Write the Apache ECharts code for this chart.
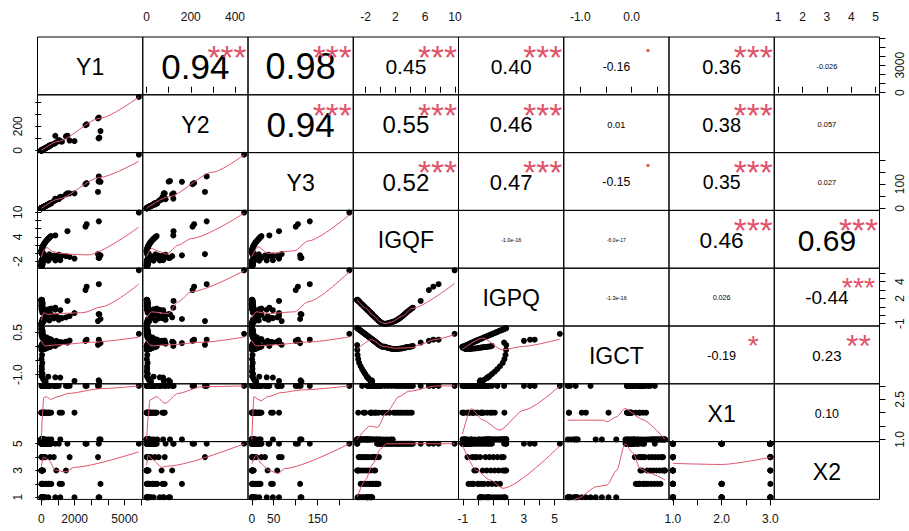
<!DOCTYPE html>
<html><head><meta charset="utf-8">
<script src="https://cdn.jsdelivr.net/npm/echarts@6/dist/echarts.min.js"></script>
<style>html,body{margin:0;padding:0;background:#fff}#c{width:909px;height:531px}</style>
</head><body><div id="c"></div>
<script>
// ---------------- data (one array per variable, same observation order) ----------------
const varNames = ['Y1','Y2','Y3','IGQF','IGPQ','IGCT','X1','X2'];
const Y1 = [12,30,8,45,20,60,15,85,25,50,10,70,35,110,18,95,40,150,320,65,200,520,600,420,900,250,1100,750,80,1050,480,40,130,22,55,15,
  7,12,18,25,36,48,60,74,90,105,125,145,168,190,215,240,268,295,330,360,395,430,465,505,545,590,
  20,8,45,15,60,28,35,12,75,18,90,140,200,260,
  420,840,1140,1990,3480,3440,
  5850,3450,2720,2650,1570,3400,3550,1700,1480,1240,840];
const Y2 = [1.2,2.5,0.6,3.8,1.5,4.2,1.0,7.0,2.0,3.5,0.8,5.5,2.8,9.0,1.4,8.0,3.0,12,26,5,14,38,48,30,68,20,82,55,6,86,40,3,10,1.6,4,1.1,
  0.5,1.0,1.4,2.0,2.6,3.8,4.5,5.8,6.6,8.5,9.2,11.5,12.5,15,16,19,20,23,25,28,30,34,36,40,42,46,
  1.5,0.6,3.5,1.2,4.8,2.2,2.6,0.9,5.5,1.4,7,10,15,20,
  32,60,75,78,106,100,
  441,272,215,208,122,264,160,82,116,72,121];
const Y3 = [0.5,1.0,0.3,1.6,0.9,2.5,0.6,3.0,1.2,2.2,0.4,2.8,1.5,4.5,0.7,3.6,1.8,6,12,2.5,9,22,20,17,36,10,44,30,3,38,16,1.5,5,0.8,2,0.6,
  0.3,0.5,0.7,1.0,1.4,1.8,2.4,2.8,3.5,4.0,5.0,5.4,6.5,7.2,8.5,9.0,10.5,11,13,13.5,15.5,16,18,19,21,22,
  0.8,0.3,1.8,0.6,2.2,1.1,1.5,0.5,3,0.7,3.5,5.5,8,10,
  17,34,48,62,113,111,
  222,132,105,100,62,68,110,62,58,48,40];
const IGQF = [-3.12,-3.06,-2.98,-2.92,-2.85,-2.75,-2.65,-2.55,-2.45,-2.35,-2.25,-2.15,-2.05,-1.95,-1.85,-1.75,-1.65,-1.55,-1.45,-1.35,-1.25,-1.15,-1.05,-0.95,-0.85,-0.75,-0.65,-0.55,-0.45,-0.35,-0.25,-0.15,-0.05,0.05,0.15,0.3,
  0.45,0.6,0.75,0.9,1.05,1.2,1.35,1.5,1.65,1.8,1.95,2.1,2.25,2.4,2.55,2.7,2.85,3.0,3.15,3.3,3.45,3.6,3.75,3.9,4.05,4.2,
  -3.12,-3.1,-3.06,-2.98,-2.85,-2.65,-2.45,-2.25,-2.05,-1.85,-1.65,-1.45,-1.3,-1.2,
  -1.8,-1.75,-1.7,-1.3,-1.1,-1.15,
  9.95,7.8,7.1,6.5,5.4,-0.2,-0.5,-0.9,-0.7,-0.6,4.35];
const IGPQ = [1.84,1.79,1.72,1.67,1.61,1.52,1.43,1.35,1.26,1.17,1.09,1.00,0.91,0.83,0.74,0.65,0.56,0.48,0.39,0.30,0.22,0.13,0.04,-0.04,-0.13,-0.22,-0.30,-0.39,-0.47,-0.55,-0.63,-0.72,-0.80,-0.86,-0.92,-0.98,
  -1.01,-1.03,-1.03,-1.0,-0.95,-0.92,-0.88,-0.84,-0.8,-0.75,-0.7,-0.63,-0.55,-0.47,-0.38,-0.28,-0.18,-0.07,0.05,0.17,0.28,0.39,0.5,0.6,0.7,0.8,
  1.84,1.83,1.79,1.72,1.61,1.43,1.26,1.09,0.91,0.74,0.56,0.39,0.26,0.17,
  0.7,0.65,0.6,0.26,0.1,0.14,
  5.35,3.7,3.4,3.0,1.7,-0.7,-0.45,-0.1,-0.25,-0.35,0.9];
const IGCT = [0.65,0.64,0.63,0.61,0.60,0.58,0.56,0.54,0.52,0.50,0.48,0.46,0.44,0.42,0.40,0.38,0.36,0.34,0.32,0.30,0.28,0.26,0.24,0.22,0.20,0.18,0.16,0.14,0.12,0.10,0.08,0.06,0.04,0.02,0.0,-0.01,
  0.0,-0.01,-0.02,-0.04,-0.05,-0.06,-0.07,-0.08,-0.09,-0.09,-0.09,-0.09,-0.09,-0.08,-0.08,-0.07,-0.07,-0.06,-0.05,-0.04,-0.03,-0.02,-0.02,-0.01,0.0,0.0,
  0.05,-0.12,-0.3,-0.45,-0.58,-0.7,-0.8,-0.89,-0.97,-1.05,-1.12,-1.18,-1.22,-1.245,
  -1.07,-1.09,-1.1,-1.22,-1.24,-1.2,
  0.45,0.24,0.24,0.2,0.14,0.06,0.12,0.21,0.17,0.15,0.02];
const X1 = [1,1,1,1,1,1,1,1,1,1,1,1,1,1,1,1,3,1,3,1,2,3,1,2,3,1,2,3,1,3,2,1,3,1,3,2,
  1,3,2,1,3,2,1,3,1,2,3,2,3,2,3,2,3,2,3,2,3,2,3,2,3,2,
  1,1,1,2,1,1,3,2,2,1,1,1,2,3,
  1,3,1,2,1,3,
  3,3,3,3,3,3,1,3,3,2,3];
const X2 = [3,3,3,4,3,4,2,3,4,2,3,4,2,3,4,2,3,4,2,3,2,4,2,2,3,4,2,4,5,5,2,5,5,5,5,5,
  5,5,5,5,5,5,5,5,5,5,5,5,5,5,5,5,5,5,5,5,5,5,5,5,5,5,
  5,5,1,1,1,1,1,1,1,1,1,1,1,1,
  1,1,1,1,1,1,
  5,5,5,5,5,4,2,4,3,2,5];

// correlations (upper triangle, row by row) and significance stars
const corrLabels = ['0.94','0.98','0.45','0.40','-0.16','0.36','-0.026',
  '0.94','0.55','0.46','0.01','0.38','0.057',
  '0.52','0.47','-0.15','0.35','0.027',
  '-1.0e-16','-6.0e-17','0.46','0.69',
  '-1.3e-16','0.026','-0.44',
  '-0.19','0.23',
  '0.10'];
const corrStars = ['***','***','***','***','.','***','',
  '***','***','***','','***','',
  '***','***','.','***','',
  '','','***','***',
  '','','***',
  '*','**',
  ''];

// smoothed (loess) red lines, [x, y] in data units
const loess_Y2_Y1 = [[8,2],[1000,75],[3500,265],[5850,440]];
const loess_Y3_Y1 = [[8,0],[1000,38],[3500,128],[5850,195]];
const loess_Y3_Y2 = [[0.5,0],[100,48],[300,150],[441,222]];
const loess_IGQF_Y1 = [[7,-1.0],[150,0.7],[340,1.4],[700,0.4],[1100,0.0],[2000,-0.3],[2800,-0.4],[5850,6.4]];
const loess_IGQF_Y2 = [[0.5,-0.8],[22,1.2],[60,0.4],[90,-0.2],[143,2.0],[203,3.6],[441,9.8]];
const loess_IGQF_Y3 = [[0.2,-0.8],[14,1.6],[37,0.0],[97,0.6],[128,3.0],[222,9.4]];
const loess_IGPQ_Y1 = [[7,-0.6],[150,0.3],[400,0.1],[1000,0.2],[2500,0.3],[3600,1.0],[5850,3.7]];
const loess_IGPQ_Y2 = [[0.5,-0.3],[22,0.4],[98,0.2],[143,1.6],[203,2.8],[441,5.3]];
const loess_IGPQ_Y3 = [[0.2,-0.3],[10,0.4],[37,0.2],[97,0.4],[128,1.6],[222,5.2]];
const loess_IGPQ_IGQF = [[-3.12,1.84],[-2,0.87],[-1,0],[0,-0.8],[0.6,-1.0],[1.5,-0.8],[3,-0.07],[4.2,0.8],[9.95,3.8]];
const loess_IGCT_Y1 = [[7,0.2],[200,0.02],[1000,0.06],[3000,0.15],[5850,0.33]];
const loess_IGCT_Y2 = [[0.5,0.2],[20,0.02],[100,0.06],[250,0.15],[441,0.33]];
const loess_IGCT_Y3 = [[0.2,0.2],[10,0.02],[50,0.06],[130,0.16],[222,0.34]];
const loess_IGCT_IGQF = [[-3.12,-0.1],[-1.2,0.24],[0.4,0.0],[2.0,-0.06],[4.2,-0.04],[5.5,0.08],[7.1,0.24],[9.95,0.42]];
const loess_IGCT_IGPQ = [[-1.03,-0.1],[0.3,0.3],[1.6,-0.12],[2.9,0.0],[5.35,0.26]];
const loess_X1_Y1 = [[7,1.0],[60,1.8],[140,2.55],[300,2.6],[550,2.5],[1000,2.6],[1600,2.72],[3600,2.9],[5850,3.0]];
const loess_X1_Y2 = [[0.5,1.0],[8,1.9],[15,2.47],[45,2.6],[83,2.35],[143,2.72],[248,2.97],[441,3.0]];
const loess_X1_Y3 = [[0.2,1.0],[5,2.6],[14,2.5],[21,2.45],[37,2.6],[67,2.75],[113,2.85],[222,3.0]];
const loess_X1_IGQF = [[-3.12,1.0],[-1.4,1.5],[-0.4,1.45],[0.8,2.0],[2.5,2.6],[3.8,2.8],[7.5,3.0],[9.95,3.0]];
const loess_X1_IGPQ = [[-1.03,1.2],[-0.45,2.15],[0.3,1.73],[1.4,1.35],[3.0,2.1],[5.35,3.0]];
const loess_X1_IGCT = [[-1.245,1.72],[-0.55,1.72],[-0.48,1.66],[-0.29,1.85],[-0.13,2.16],[0.03,1.98],[0.1,1.85],[0.2,1.75],[0.65,1.0]];
const loess_X2_Y1 = [[7,3.3],[140,4.0],[440,3.8],[840,3.03],[1440,2.9],[2000,3.24],[5850,4.4]];
const loess_X2_Y2 = [[0.5,3.4],[8,4.15],[30,3.78],[68,3.24],[98,3.33],[441,5.0]];
const loess_X2_Y3 = [[0.2,3.5],[10,4.15],[21,3.53],[37,3.03],[60,2.78],[75,3.15],[222,5.0]];
const loess_X2_IGQF = [[-3.12,1.0],[-2.0,2.3],[-1.0,3.5],[0.0,4.6],[0.8,5.0],[9.95,5.0]];
const loess_X2_IGPQ = [[-1.03,4.9],[-0.1,3.0],[0.76,2.3],[1.63,1.67],[5.35,4.85]];
const loess_X2_IGCT = [[-1.245,0.5],[-1.06,0.9],[-0.68,1.79],[-0.48,1.91],[-0.29,3.03],[-0.13,5.0],[0.03,4.28],[0.16,3.16],[0.35,2.79],[0.65,2.29]];
const loess_X2_X1 = [[1,3.53],[2,3.45],[3,3.98]];

// axis ticks and printed tick labels
const tickValues = [[0,1000,2000,3000,4000,5000,6000],[0,100,200,300,400],[0,50,100,150,200],[-2,0,2,4,6,8,10],[-1,0,1,2,3,4,5],[-1,-0.5,0,0.5],[1,1.5,2,2.5,3],[1,2,3,4,5]];
const topLabels = {1:[0,200,400], 3:[-2,2,6,10], 5:[-1,0], 7:[1,2,3,4,5]};
const bottomLabels = {0:[0,2000,5000], 2:[0,50,150], 4:[-1,1,3,5], 6:[1,2,3]};
const leftLabels = {1:[0,200], 3:[-2,4,10], 5:[-1,0.5], 7:[1,3,5]};
const rightLabels = {0:[0,3000], 2:[0,100], 4:[-1,2,4], 6:[1,2.5]};
const oneDecimal = [false,false,false,false,false,true,true,false];

// ---------------- layout & styling ----------------
const L0 = 37.5, T0 = 37, CW = 105.25, CH = 57.8;
const FONT = 'Liberation Sans, Arial, Helvetica, sans-serif';
const RED = '#DF536B';
const corrFont = [35,36,21,21,12,20,7.3, 35,24,22,9.3,20,7.5, 24,22,12.3,19.5,7.3, 5.5,5.1,22.7,30, 5.6,7.2,19, 12.6,15, 12.4];
const starFont = [33.4,33.4,33.4,33.4,28.5,33.4,0, 33.4,33.4,33.4,0,33.4,0, 33.4,33.4,28.5,33.4,0, 0,0,33.4,33.4, 0,0,28.5, 28.5,32, 0];

const vars = [Y1,Y2,Y3,IGQF,IGPQ,IGCT,X1,X2];
const loessMap = {
  '1_0':loess_Y2_Y1,'2_0':loess_Y3_Y1,'2_1':loess_Y3_Y2,
  '3_0':loess_IGQF_Y1,'3_1':loess_IGQF_Y2,'3_2':loess_IGQF_Y3,
  '4_0':loess_IGPQ_Y1,'4_1':loess_IGPQ_Y2,'4_2':loess_IGPQ_Y3,'4_3':loess_IGPQ_IGQF,
  '5_0':loess_IGCT_Y1,'5_1':loess_IGCT_Y2,'5_2':loess_IGCT_Y3,'5_3':loess_IGCT_IGQF,'5_4':loess_IGCT_IGPQ,
  '6_0':loess_X1_Y1,'6_1':loess_X1_Y2,'6_2':loess_X1_Y3,'6_3':loess_X1_IGQF,'6_4':loess_X1_IGPQ,'6_5':loess_X1_IGCT,
  '7_0':loess_X2_Y1,'7_1':loess_X2_Y2,'7_2':loess_X2_Y3,'7_3':loess_X2_IGQF,'7_4':loess_X2_IGPQ,'7_5':loess_X2_IGCT,'7_6':loess_X2_X1
};
function padRange(a){ const mn=Math.min(...a), mx=Math.max(...a), p=(mx-mn)*0.04; return [mn-p, mx+p]; }
const ranges = vars.map(padRange);

function axisCfg(kind, v, gridIndex, labels, position){
  const base = {type:'value', gridIndex, min:ranges[v][0], max:ranges[v][1], splitLine:{show:false}, axisLine:{show:false}};
  if(!labels){ base.show=false; return base; }
  base.show = true; base.position = position;
  base.axisTick = {show:true, inside:false, length:6, customValues:tickValues[v], lineStyle:{color:'#000', width:1}};
  base.axisLabel = {show:true, customValues:labels, fontSize:12, fontFamily:FONT, color:'#111', margin:14,
    rotate: kind==='y' ? 90 : 0,
    formatter: (val)=> oneDecimal[v] ? Number(val).toFixed(1) : String(val)};
  return base;
}

const grids=[], xAxes=[], yAxes=[], series=[], graphics=[];
for(let r=0;r<8;r++){
  for(let c=0;c<8;c++){
    const idx=r*8+c;
    grids.push({left:L0+c*CW, top:T0+r*CH, width:CW, height:CH, show:true, borderColor:'#000', borderWidth:1, backgroundColor:'transparent', containLabel:false});
    let xl=null, xp='bottom', yl=null, yp='left';
    if(r===0 && topLabels[c]) { xl=topLabels[c]; xp='top'; }
    if(r===7 && bottomLabels[c]) { xl=bottomLabels[c]; xp='bottom'; }
    if(c===0 && leftLabels[r]) { yl=leftLabels[r]; yp='left'; }
    if(c===7 && rightLabels[r]) { yl=rightLabels[r]; yp='right'; }
    xAxes.push(axisCfg('x', c, idx, xl, xp));
    yAxes.push(axisCfg('y', r, idx, yl, yp));
    if(r>c){
      const xs=vars[c], ys=vars[r];
      series.push({type:'scatter', xAxisIndex:idx, yAxisIndex:idx, symbol:'circle', symbolSize:6,
        itemStyle:{color:'#000', opacity:1}, silent:true, animation:false, data: xs.map((x,i)=>[x, ys[i]])});
      series.push({type:'line', xAxisIndex:idx, yAxisIndex:idx, showSymbol:false, symbol:'none', smooth:0.25, smoothMonotone:'x',
        lineStyle:{color:RED, width:1}, silent:true, animation:false, clip:true, data: loessMap[r+'_'+c], z:3});
    }
  }
}
// diagonal names
for(let k=0;k<8;k++){
  graphics.push({type:'text', x:L0+k*CW+CW/2, y:T0+k*CH+CH/2+1, style:{text:varNames[k], fontSize:23, fontFamily:FONT, fill:'#000', textAlign:'center', textVerticalAlign:'middle'}});
}
// correlation texts
let q=0;
for(let r=0;r<8;r++){
  for(let c=r+1;c<8;c++){
    const cx=L0+c*CW+CW/2, cy=T0+r*CH+CH/2+0.8;
    graphics.push({type:'text', x:cx, y:cy, style:{text:corrLabels[q], fontSize:corrFont[q], fontFamily:FONT, fill:'#000', textAlign:'center', textVerticalAlign:'middle'}});
    const s=corrStars[q];
    if(s){
      const fs=starFont[q];
      const sx=L0+c*CW+0.8*CW;
      const sy = s==='.' ? (T0+r*CH+12) - 0.25*fs : (T0+r*CH+13) + 0.22*fs;
      graphics.push({type:'text', x:sx, y:sy, style:{text:s, fontSize:fs, fontFamily:FONT, fill:RED, textAlign:'center', textVerticalAlign:'middle'}});
    }
    q++;
  }
}

const chart = echarts.init(document.getElementById('c'), null, {renderer:'svg', width:909, height:531});
chart.setOption({animation:false, backgroundColor:'#fff', grid:grids, xAxis:xAxes, yAxis:yAxes, series, graphic:graphics});
</script></body></html>
